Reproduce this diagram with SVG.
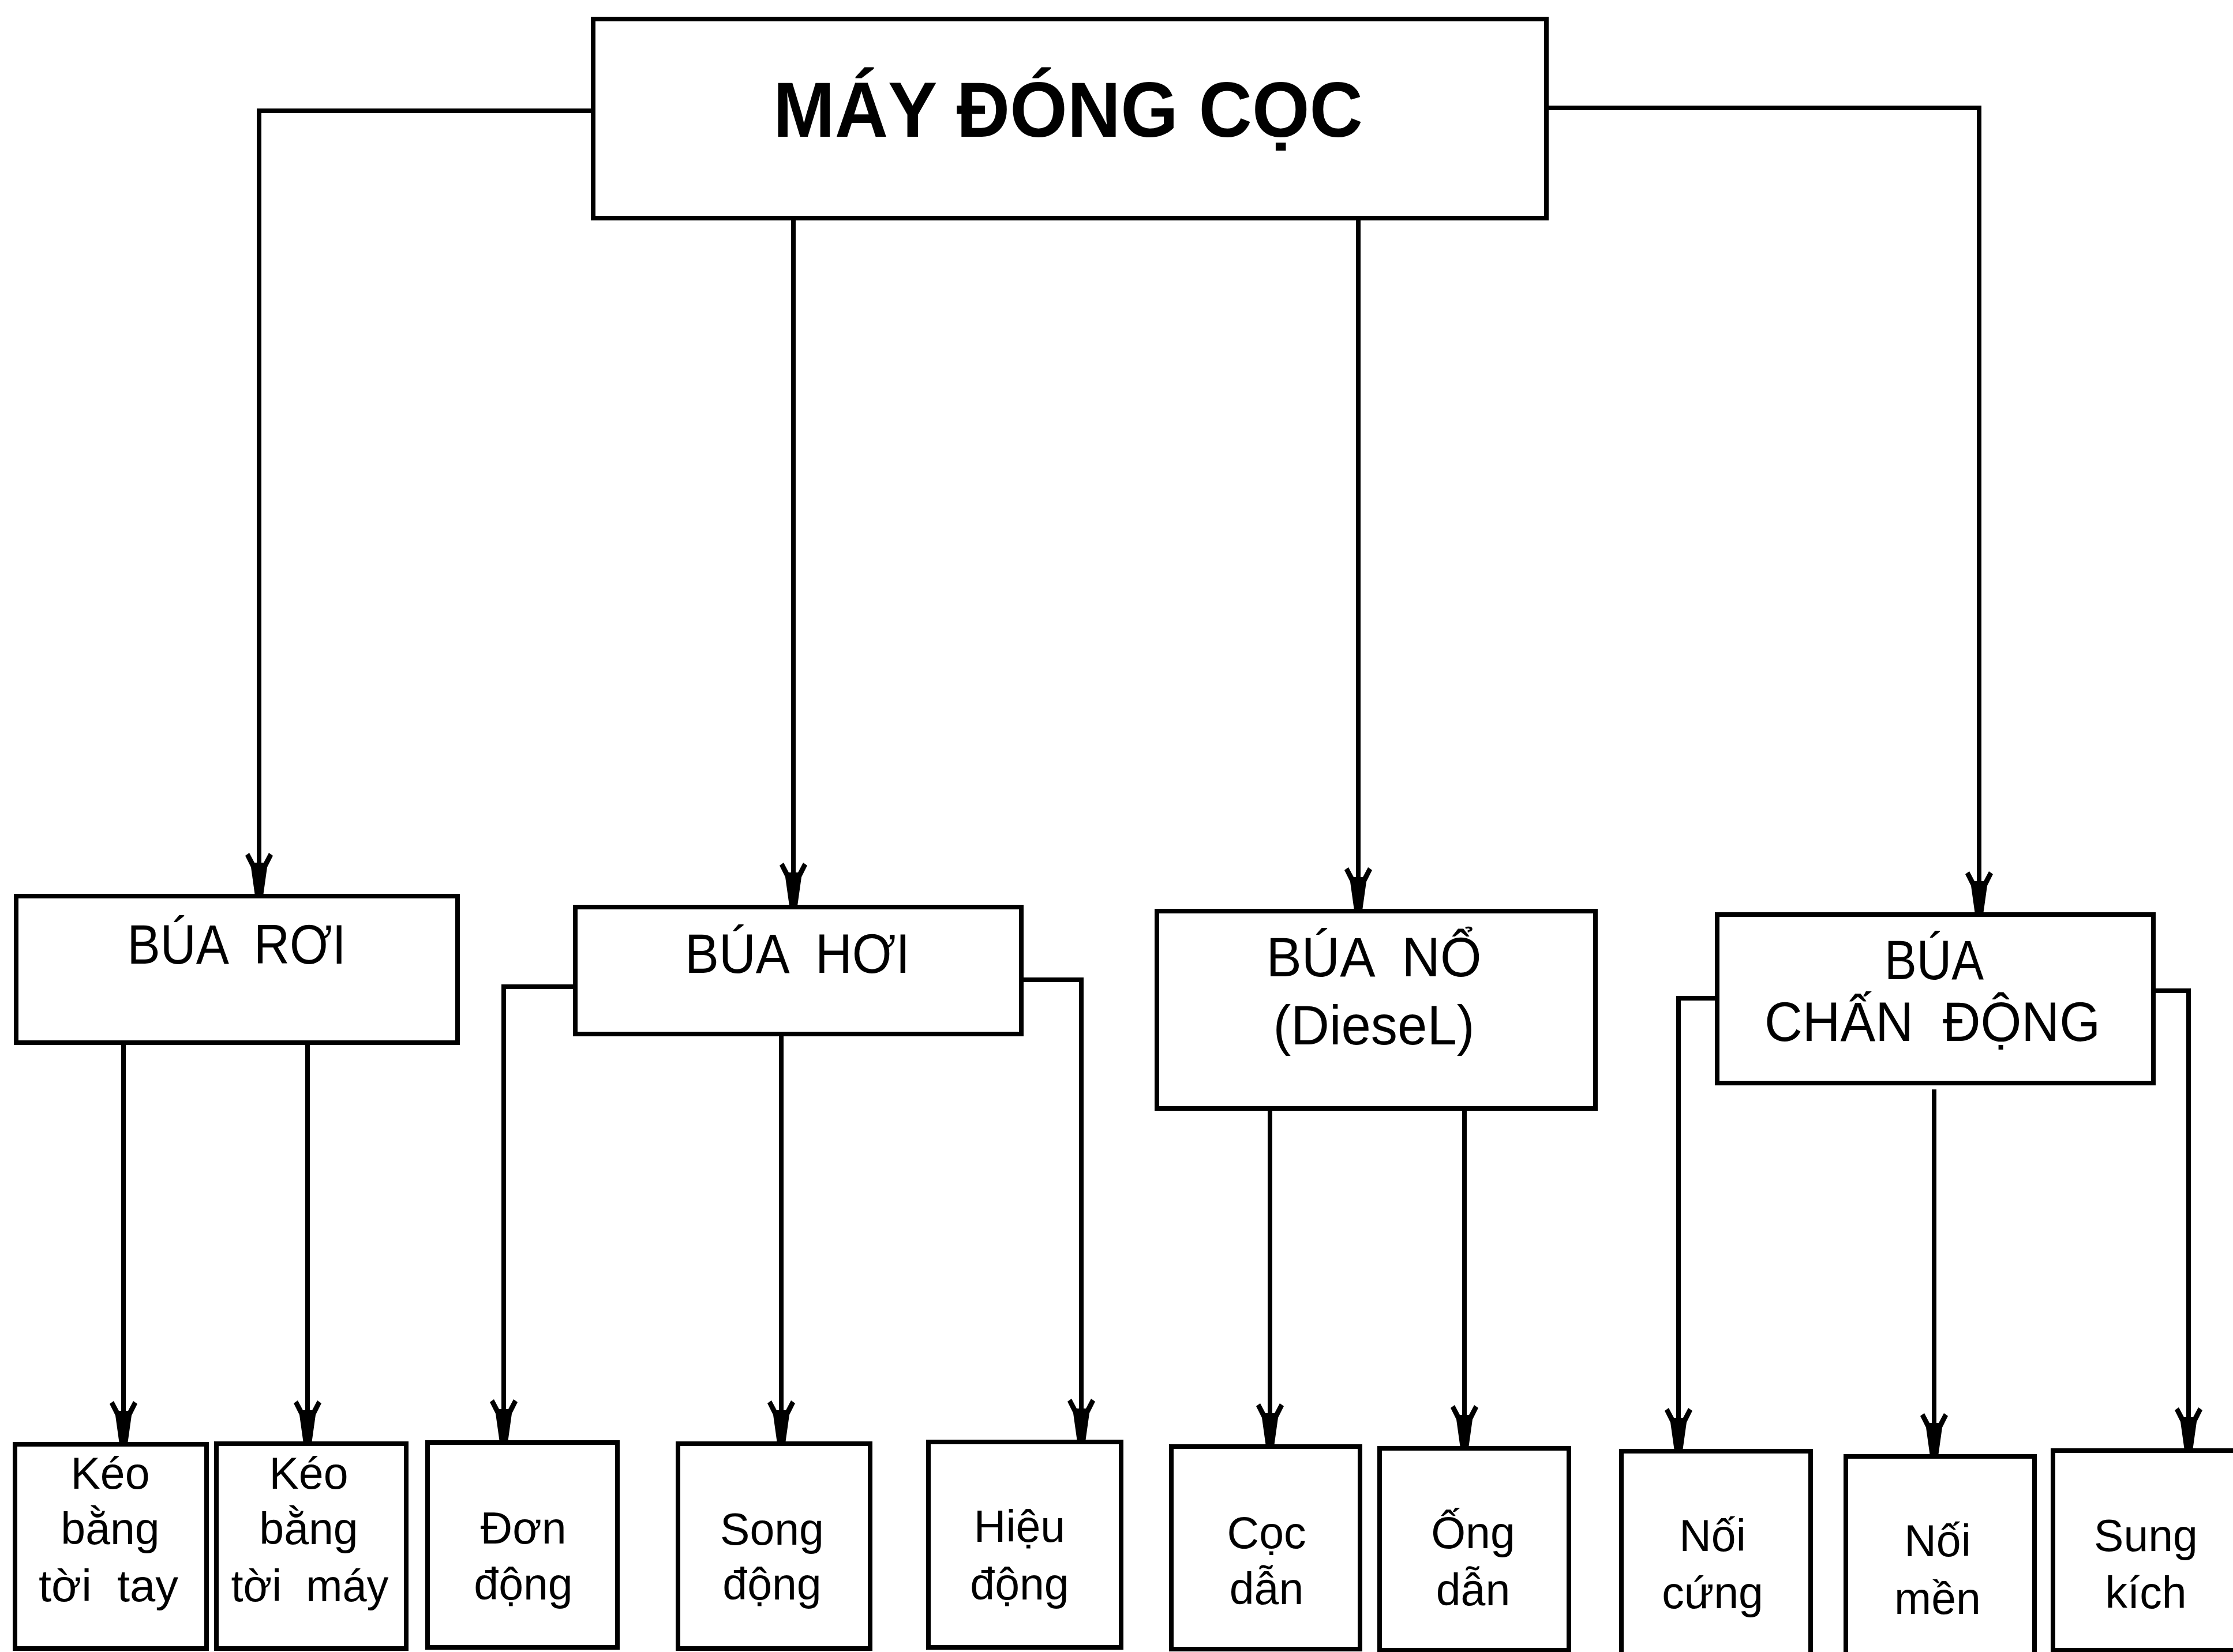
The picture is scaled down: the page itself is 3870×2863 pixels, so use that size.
<svg xmlns="http://www.w3.org/2000/svg" width="3870" height="2863" viewBox="0 0 3870 2863">
<style>
.box{fill:#fff;stroke:#000;stroke-width:8}
.ln{fill:none;stroke:#000;stroke-width:8;marker-end:url(#arr)}
text{font-family:"Liberation Sans",Arial,sans-serif;fill:#000;text-anchor:middle;white-space:pre}
.t0{font-size:135px;font-weight:bold}
.t1{font-size:97px}
.t2{font-size:77px}
</style>
<defs>
<marker id="arr" markerUnits="userSpaceOnUse" orient="auto" refX="0" refY="0" markerWidth="200" markerHeight="200" viewBox="-100 -100 200 200" overflow="visible">
<path d="M0,-7 L-50,-14 L-70,-24 L-75,-17 L-58,-8 L-58,8 L-75,17 L-70,24 L-50,14 L0,7 Z" fill="#000"/>
</marker>
</defs>
<rect width="3870" height="2863" fill="#fff"/>
<g id="connectors">
<path class="ln" d="M1028,192 H449 V1553"/>
<path class="ln" d="M2680,187 H3430 V1585"/>
<path class="ln" d="M1375,378 V1570"/>
<path class="ln" d="M2354,378 V1578"/>
<path class="ln" d="M214,1807 V2503"/>
<path class="ln" d="M533,1807 V2502"/>
<path class="ln" d="M997,1710 H873 V2500"/>
<path class="ln" d="M1354,1792 V2502"/>
<path class="ln" d="M1770,1698 H1874 V2499"/>
<path class="ln" d="M2201,1921 V2507"/>
<path class="ln" d="M2538,1921 V2510"/>
<path class="ln" d="M2976,1730 H2909 V2515"/>
<path class="ln" d="M3352,1888 V2524"/>
<path class="ln" d="M3732,1717 H3793 V2514"/>
</g>
<g id="may-dong-coc">
<rect class="box" x="1028" y="33" width="1652" height="345"/>
<text class="t0" x="1851" y="237" textLength="1022" lengthAdjust="spacingAndGlyphs">MÁY ĐÓNG CỌC</text>
</g>
<g id="bua-roi">
<rect class="box" x="28" y="1553" width="765" height="254"/>
<text class="t1" x="410" y="1670" textLength="379" lengthAdjust="spacingAndGlyphs">BÚA  RƠI</text>
</g>
<g id="bua-hoi">
<rect class="box" x="997" y="1572" width="773" height="220"/>
<text class="t1" x="1382" y="1686" textLength="390" lengthAdjust="spacingAndGlyphs">BÚA  HƠI</text>
</g>
<g id="bua-no">
<rect class="box" x="2005" y="1579" width="760" height="342"/>
<text class="t1" x="2381" y="1692" textLength="373" lengthAdjust="spacingAndGlyphs">BÚA  NỔ</text>
<text class="t1" x="2381" y="1810" textLength="349" lengthAdjust="spacingAndGlyphs">(DieseL)</text>
</g>
<g id="bua-chan-dong">
<rect class="box" x="2976" y="1585" width="756" height="292"/>
<text class="t1" x="3352" y="1697" textLength="172" lengthAdjust="spacingAndGlyphs">BÚA</text>
<text class="t1" x="3349" y="1804" textLength="582" lengthAdjust="spacingAndGlyphs">CHẤN  ĐỘNG</text>
</g>
<g id="keo-bang-toi-tay">
<rect class="box" x="26" y="2503" width="332" height="354"/>
<text class="t2" x="191" y="2580">Kéo</text>
<text class="t2" x="191" y="2676">bằng</text>
<text class="t2" x="188" y="2775" textLength="242" lengthAdjust="spacingAndGlyphs">tời  tay</text>
</g>
<g id="keo-bang-toi-may">
<rect class="box" x="375" y="2502" width="329" height="355"/>
<text class="t2" x="535" y="2580">Kéo</text>
<text class="t2" x="535" y="2676">bằng</text>
<text class="t2" x="537" y="2775" textLength="273" lengthAdjust="spacingAndGlyphs">tời  máy</text>
</g>
<g id="don-dong">
<rect class="box" x="741" y="2500" width="329" height="355"/>
<text class="t2" x="907" y="2675">Đơn</text>
<text class="t2" x="907" y="2772">động</text>
</g>
<g id="song-dong">
<rect class="box" x="1175" y="2502" width="333" height="355"/>
<text class="t2" x="1338" y="2677">Song</text>
<text class="t2" x="1338" y="2772">động</text>
</g>
<g id="hieu-dong">
<rect class="box" x="1609" y="2499" width="334" height="356"/>
<text class="t2" x="1767" y="2672">Hiệu</text>
<text class="t2" x="1767" y="2772">động</text>
</g>
<g id="coc-dan">
<rect class="box" x="2030" y="2507" width="327" height="351"/>
<text class="t2" x="2195" y="2683">Cọc</text>
<text class="t2" x="2195" y="2780">dẫn</text>
</g>
<g id="ong-dan">
<rect class="box" x="2391" y="2510" width="328" height="350"/>
<text class="t2" x="2553" y="2683">Ống</text>
<text class="t2" x="2553" y="2782">dẫn</text>
</g>
<g id="noi-cung">
<rect class="box" x="2810" y="2515" width="328" height="360"/>
<text class="t2" x="2968" y="2688">Nối</text>
<text class="t2" x="2968" y="2787">cứng</text>
</g>
<g id="noi-men">
<rect class="box" x="3199" y="2524" width="327" height="360"/>
<text class="t2" x="3358" y="2697">Nối</text>
<text class="t2" x="3358" y="2797">mền</text>
</g>
<g id="sung-kich">
<rect class="box" x="3558" y="2514" width="340" height="346"/>
<text class="t2" x="3719" y="2688">Sung</text>
<text class="t2" x="3719" y="2787">kích</text>
</g>
</svg>
